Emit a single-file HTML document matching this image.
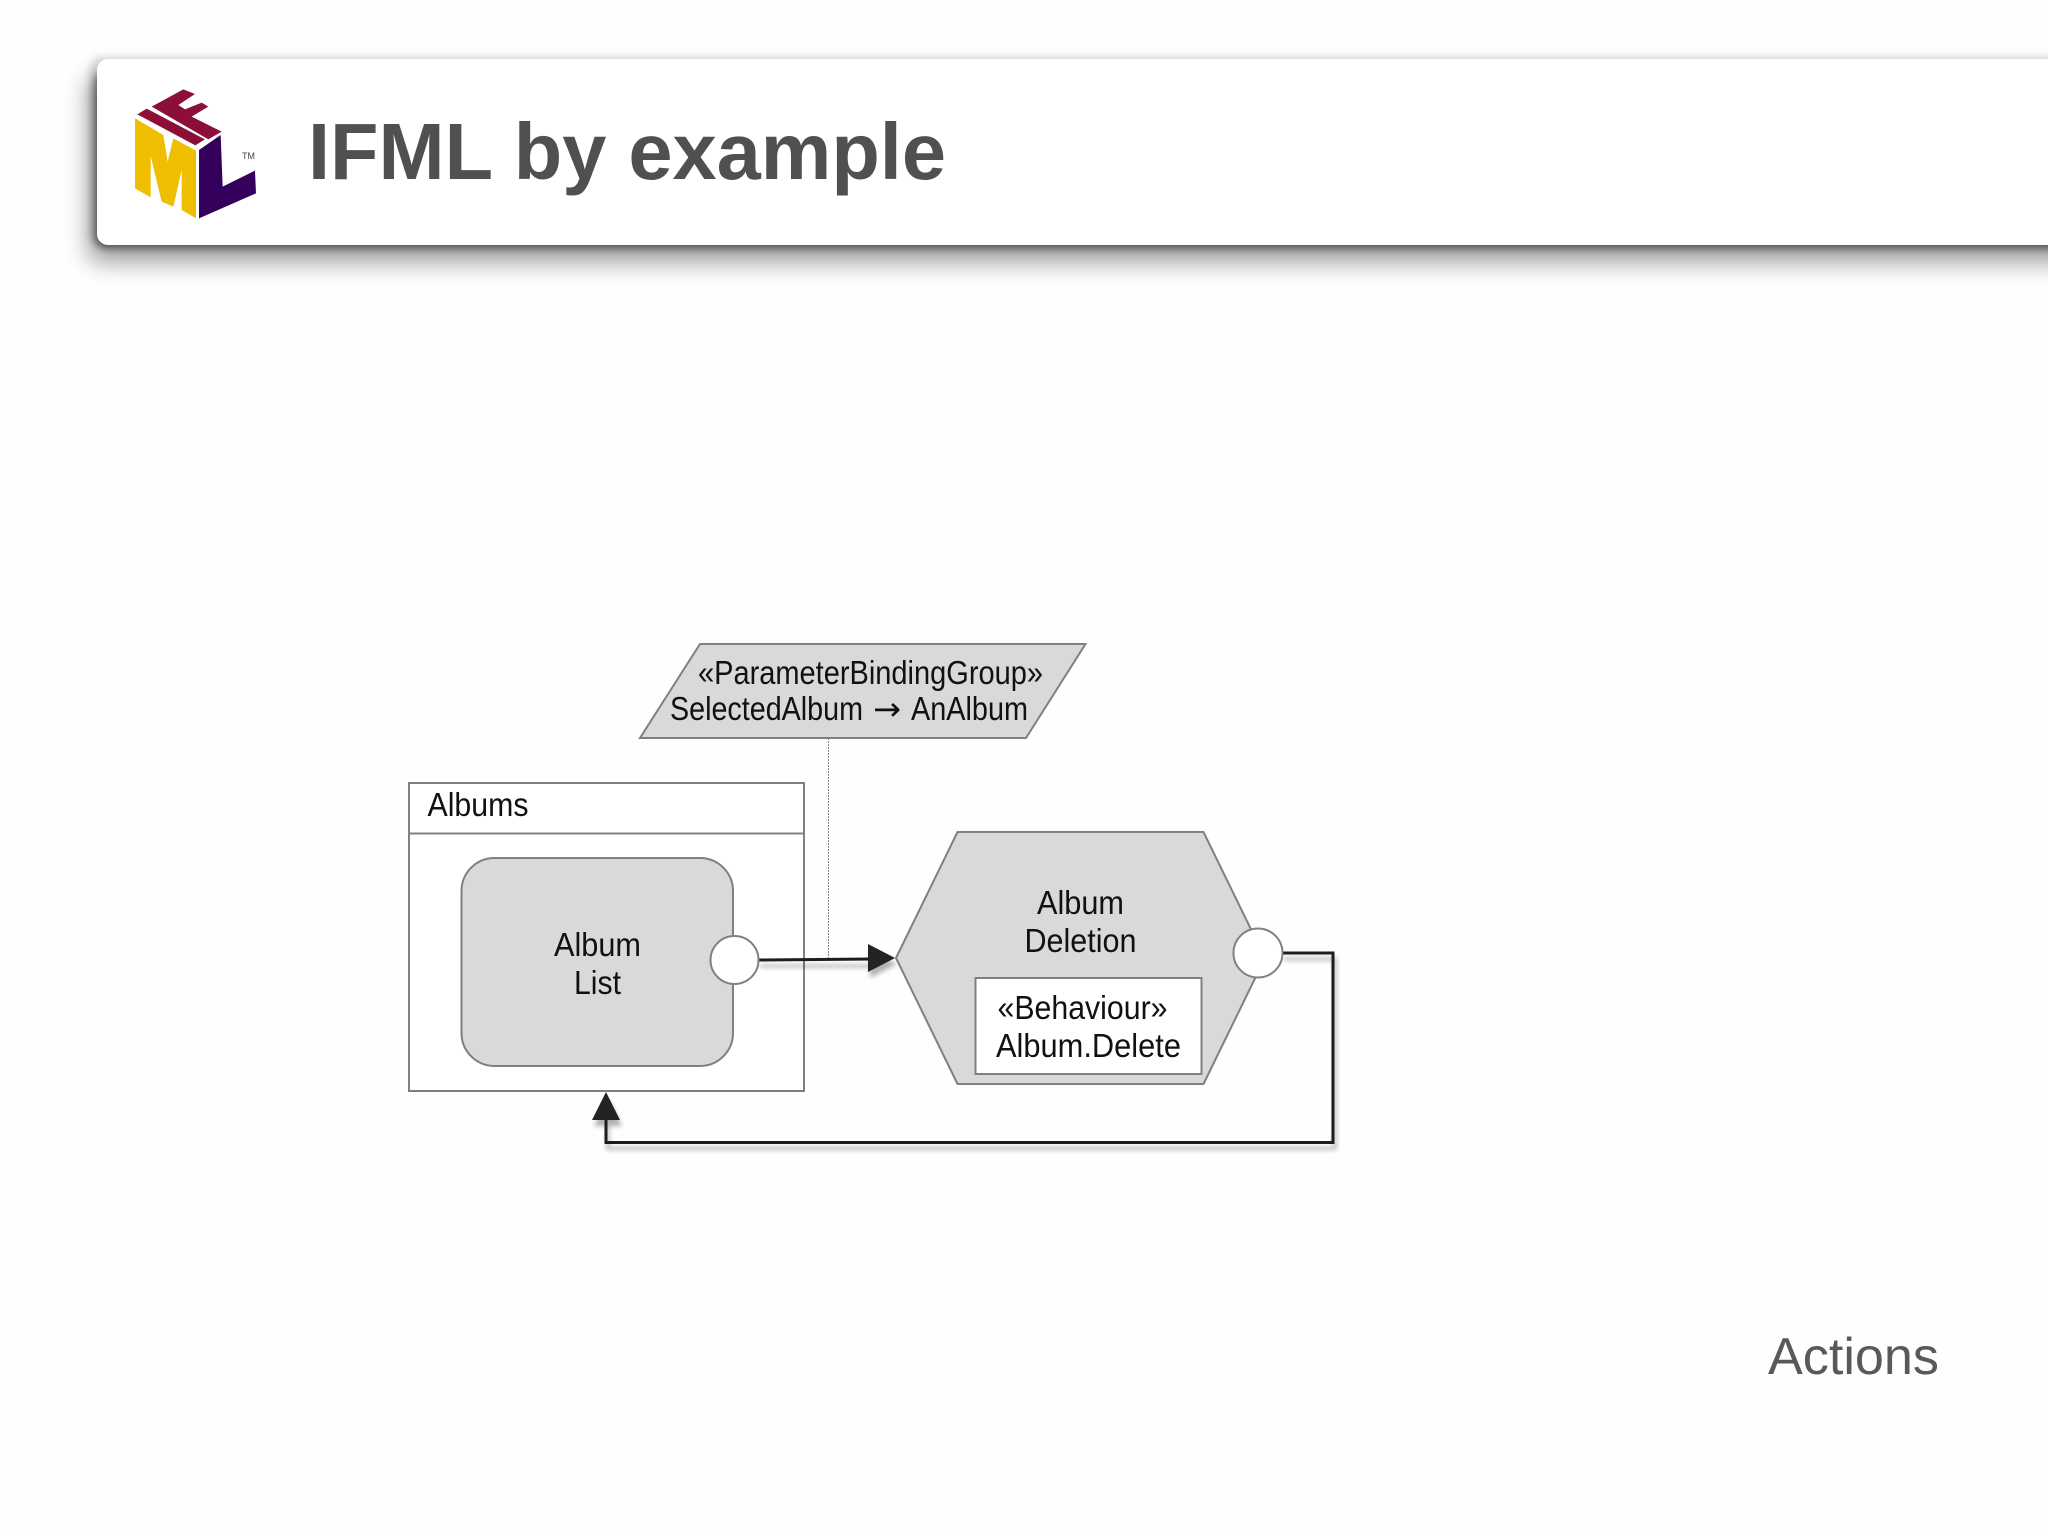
<!DOCTYPE html>
<html>
<head>
<meta charset="utf-8">
<style>
html,body{margin:0;padding:0;background:#fefefe;width:2048px;height:1536px;overflow:hidden}
svg{display:block}
text{font-family:"Liberation Sans",sans-serif;fill:#111}
</style>
</head>
<body>
<svg width="2048" height="1536" viewBox="0 0 2048 1536" xmlns="http://www.w3.org/2000/svg">
<defs>
<filter id="hs" x="-10%" y="-30%" width="120%" height="170%"><feGaussianBlur stdDeviation="12"/></filter>
<filter id="hs2" x="-10%" y="-30%" width="120%" height="170%"><feGaussianBlur stdDeviation="4"/></filter>
<filter id="ls" x="-10%" y="-10%" width="120%" height="120%"><feGaussianBlur stdDeviation="2.5"/></filter>
</defs>
<rect width="2048" height="1536" fill="#fefefe"/>

<!-- header -->
<rect x="90" y="57" width="2000" height="190" rx="12" fill="#000" opacity=".14" filter="url(#hs2)"/>
<rect x="88" y="76" width="2000" height="186" rx="12" fill="#000" opacity=".38" filter="url(#hs)"/>
<rect x="95" y="70" width="2000" height="178" rx="12" fill="#000" opacity=".45" filter="url(#hs2)"/>
<rect x="97" y="59" width="2000" height="186" rx="11" fill="#fff"/>
<text x="308" y="179" font-size="80" font-weight="700" textLength="638" lengthAdjust="spacingAndGlyphs" style="fill:#505050">IFML by example</text>

<!-- logo -->
<g transform="translate(120,80) scale(.3333)">
<polygon fill="#efbe00" points="45,115 130,165 143,245 160,175 228,212 228,415 185,390 185,270 160,380 125,365 92,228 92,352 45,325"/>
<polygon fill="#34005c" points="237,210 302,165 308,320 405,272 408,340 237,415"/>
<polygon fill="#8c0f38" points="52,103 80,86 255,178 226,196"/>
<polygon fill="#8c0f38" points="95,80 190,28 225,42 175,75 195,88 245,68 265,80 215,110 305,155 265,178"/>
</g>
<text x="242" y="159" font-size="9" style="fill:#444">TM</text>

<!-- footer label -->
<text x="1768" y="1374" font-size="52" textLength="171" lengthAdjust="spacingAndGlyphs" style="fill:#595959">Actions</text>

<!-- dotted line -->
<line x1="828.5" y1="738" x2="828.5" y2="958" stroke="#888" stroke-width="1" stroke-dasharray="2 1"/>

<!-- parallelogram -->
<polygon points="700,644 1085.5,644 1026,738 640,738" fill="#d9d8da" stroke="#808080" stroke-width="2"/>
<text x="698" y="684" font-size="33" textLength="345" lengthAdjust="spacingAndGlyphs">«ParameterBindingGroup»</text>
<text x="670" y="720" font-size="33" textLength="193" lengthAdjust="spacingAndGlyphs">SelectedAlbum</text>
<text x="873" y="720" font-size="32" textLength="28" lengthAdjust="spacingAndGlyphs" style="font-family:'DejaVu Sans',sans-serif">→</text>
<text x="911" y="720" font-size="33" textLength="117" lengthAdjust="spacingAndGlyphs">AnAlbum</text>

<!-- albums container -->
<rect x="409" y="783" width="395" height="308" fill="#fff" stroke="#808080" stroke-width="2"/>
<line x1="408" y1="833.5" x2="804" y2="833.5" stroke="#808080" stroke-width="2"/>
<text x="427.5" y="816" font-size="33" textLength="101" lengthAdjust="spacingAndGlyphs">Albums</text>

<rect x="461.5" y="858" width="271.5" height="208" rx="33" fill="#d9d8da" stroke="#808080" stroke-width="2"/>
<text x="554" y="956" font-size="33" textLength="87" lengthAdjust="spacingAndGlyphs">Album</text>
<text x="574" y="994" font-size="33" textLength="47" lengthAdjust="spacingAndGlyphs">List</text>

<!-- hexagon -->
<polygon points="896,958 957.5,832 1203.5,832 1265,958 1203.5,1084 957.5,1084" fill="#d9d8da" stroke="#808080" stroke-width="2"/>
<text x="1037" y="914" font-size="33" textLength="87" lengthAdjust="spacingAndGlyphs">Album</text>
<text x="1024.5" y="952" font-size="33" textLength="112" lengthAdjust="spacingAndGlyphs">Deletion</text>
<rect x="975.5" y="978" width="226" height="96" fill="#fff" stroke="#808080" stroke-width="2"/>
<text x="997.5" y="1019" font-size="33" textLength="170" lengthAdjust="spacingAndGlyphs">«Behaviour»</text>
<text x="996" y="1057" font-size="33" textLength="185" lengthAdjust="spacingAndGlyphs">Album.Delete</text>

<!-- connector shadows -->
<g filter="url(#ls)" opacity=".3" transform="translate(2,6)">
<path d="M758 960H872" fill="none" stroke="#000" stroke-width="3"/>
<polygon points="868,944 895,958 868,972"/>
<path d="M1282 953H1333V1142.5H606V1120" fill="none" stroke="#000" stroke-width="3"/>
<polygon points="592,1120 620,1120 606,1092"/>
</g>

<!-- connectors -->
<path d="M758 960L872 959" fill="none" stroke="#1d1d1f" stroke-width="3"/>
<polygon points="868,944 895,958 868,972" fill="#232326"/>
<path d="M1282 953H1333V1142.5H606V1118" fill="none" stroke="#1d1d1f" stroke-width="3"/>
<polygon points="592,1120 620,1120 606,1092" fill="#232326"/>

<!-- ports -->
<circle cx="734.5" cy="960" r="24" fill="#fff" stroke="#808080" stroke-width="2"/>
<circle cx="1258" cy="953" r="24.5" fill="#fff" stroke="#808080" stroke-width="2"/>
</svg>
</body>
</html>
